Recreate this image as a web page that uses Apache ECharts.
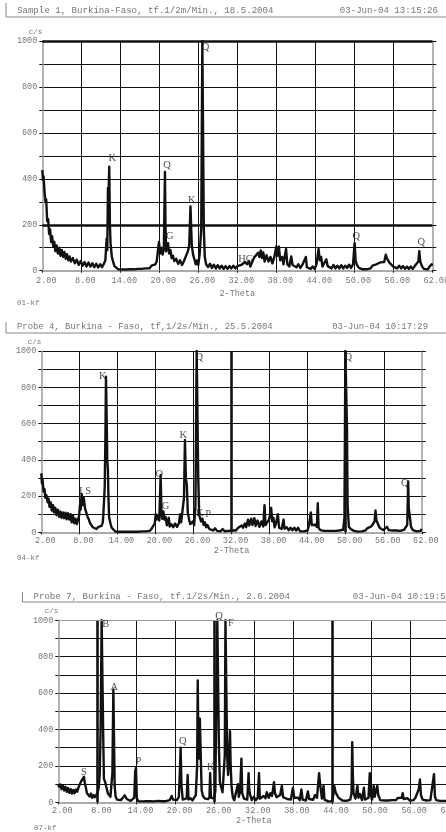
<!DOCTYPE html>
<html><head><meta charset="utf-8">
<style>html,body{margin:0;padding:0;background:#fff}#c{width:446px;height:832px;filter:blur(0.35px)}</style>
<script src="https://cdn.jsdelivr.net/npm/echarts@6/dist/echarts.min.js"></script>
</head><body><div id="c"></div>
<script>
const thetaTicks=[2,8,14,20,26,32,38,44,50,56,62];
const countTicks=[0,200,400,600,800,1000];
const headersA=["Sample 1, Burkina-Faso, tf.1/2m/Min., 18.5.2004","03-Jun-04 13:15:26","01-kf"];
const headersB=["Probe 4, Burkina - Faso, tf,1/2s/Min., 25.5.2004","03-Jun-04 10:17:29","04-kf"];
const headersC=["Probe 7, Burkina - Faso, tf.1/2s/Min., 2.6.2004","03-Jun-04 10:19:59","07-kf"];
const thickRowsA=[200,1000];
const thickColsB=[32,50];
const thickColsC=[8,26,44];
const peaksA=[[12.77,489,"K"],[21.2,460,"Q"],[25,308,"K"],[27.1,971,"Q"],[21.6,151,"G"],[33.3,49,"HG"],[50.3,148,"Q"],[60.3,126,"Q"]];
const peaksB=[[11.7,862,"K"],[8.9,228,"I S"],[20.6,322,"Q"],[21.6,141,"G"],[24.4,533,"K"],[26.9,967,"Q"],[50.4,967,"Q"],[59.3,270,"Q"],[28.3,99,"P"],[27,105,"K"]];
const peaksC=[[5.94,163,"S"],[9.3,980,"B"],[10.6,630,"A"],[14.3,225,"P"],[21.1,333,"Q"],[25.4,190,"K"],[26.65,1025,"Q"],[28.5,983,"F"]];
const traceA=[[2,438],[2.1,395],[2.2,410],[2.35,340],[2.5,300],[2.6,310],[2.75,215],[2.9,225],[3.05,160],[3.2,180],[3.35,125],[3.5,150],[3.7,105],[3.85,125],[4,85],[4.2,110],[4.4,75],[4.6,100],[4.8,65],[5,90],[5.2,60],[5.4,82],[5.6,52],[5.8,72],[6,45],[6.2,62],[6.4,40],[6.7,55],[7,32],[7.3,48],[7.6,25],[7.9,42],[8.2,22],[8.5,38],[8.8,18],[9.1,36],[9.4,18],[9.7,32],[10,15],[10.3,30],[10.6,14],[10.9,28],[11.2,16],[11.5,32],[11.7,45],[11.9,140],[12,90],[12.1,360],[12.2,340],[12.3,453],[12.4,200],[12.5,120],[12.7,60],[12.9,38],[13.1,20],[13.4,14],[13.7,6],[14,14],[14.3,5],[14.6,12],[14.9,5],[15.2,13],[15.5,6],[15.8,14],[16.1,6],[16.4,13],[16.7,8],[17,16],[17.3,8],[17.6,16],[17.9,10],[18.2,18],[18.5,10],[18.8,22],[19.1,14],[19.4,28],[19.6,40],[19.8,90],[19.95,125],[20.1,75],[20.3,100],[20.5,70],[20.7,95],[20.87,430],[20.95,200],[21.05,85],[21.2,105],[21.35,120],[21.5,75],[21.7,90],[21.9,55],[22.1,65],[22.3,42],[22.6,52],[22.9,30],[23.2,45],[23.5,25],[23.8,42],[24.1,50],[24.4,85],[24.6,110],[24.8,280],[24.9,190],[25,110],[25.2,70],[25.4,50],[25.6,28],[25.8,45],[26,25],[26.2,70],[26.45,180],[26.62,1000],[26.75,1000],[26.85,180],[27,60],[27.2,28],[27.5,16],[27.8,30],[28.1,12],[28.4,26],[28.7,10],[29,24],[29.3,10],[29.6,22],[29.9,8],[30.2,20],[30.5,8],[30.8,20],[31.1,10],[31.4,22],[31.7,10],[32,20],[32.3,15],[32.6,25],[32.9,22],[33.2,38],[33.5,28],[33.8,42],[34,18],[34.3,25],[34.6,58],[34.9,50],[35.2,78],[35.4,60],[35.6,88],[35.8,55],[36,80],[36.2,40],[36.5,68],[36.8,40],[37.1,60],[37.4,32],[37.7,60],[38,105],[38.2,65],[38.4,105],[38.6,45],[38.9,60],[39.1,28],[39.5,95],[39.7,28],[40,18],[40.3,62],[40.5,25],[40.8,32],[41.1,15],[41.4,28],[41.7,12],[42,25],[42.3,18],[42.55,60],[42.7,15],[43,20],[43.3,8],[43.6,18],[43.9,8],[44.2,30],[44.5,95],[44.7,45],[44.9,60],[45.1,18],[45.4,22],[45.7,50],[45.9,20],[46.2,28],[46.5,10],[46.8,25],[47.1,10],[47.4,22],[47.7,10],[48,24],[48.3,10],[48.6,22],[48.9,12],[49.2,26],[49.5,12],[49.8,28],[50.05,120],[50.2,45],[50.4,25],[50.7,12],[51,16],[51.3,6],[51.6,14],[51.9,6],[52.2,14],[52.5,10],[52.8,22],[53.1,14],[53.4,28],[53.7,22],[54,36],[54.3,28],[54.6,38],[54.85,70],[55,55],[55.2,60],[55.4,35],[55.7,38],[56,18],[56.3,26],[56.6,10],[56.9,22],[57.2,10],[57.5,20],[57.8,8],[58.1,18],[58.4,8],[58.7,18],[59,8],[59.3,20],[59.6,16],[59.85,40],[60,85],[60.15,40],[60.4,20],[60.7,8],[61,16],[61.3,6],[61.6,18],[61.9,28],[62,22]];
const traceB=[[2,325],[2.1,270],[2.2,290],[2.35,225],[2.5,240],[2.65,190],[2.8,205],[3,165],[3.15,185],[3.3,140],[3.5,165],[3.65,120],[3.85,150],[4,110],[4.2,135],[4.4,95],[4.6,125],[4.8,85],[5,115],[5.2,80],[5.4,110],[5.6,78],[5.8,108],[6,72],[6.2,105],[6.4,70],[6.6,100],[6.8,55],[7,92],[7.2,50],[7.4,75],[7.6,45],[7.8,70],[7.95,90],[8.1,150],[8.2,125],[8.36,212],[8.5,150],[8.7,190],[8.9,130],[9.1,125],[9.3,85],[9.5,70],[9.7,50],[9.9,45],[10.1,28],[10.4,38],[10.7,18],[11,30],[11.3,22],[11.5,35],[11.7,55],[11.8,110],[12,250],[12.1,500],[12.2,858],[12.3,650],[12.4,400],[12.5,350],[12.6,180],[12.7,80],[12.9,50],[13.1,25],[13.4,14],[13.7,4],[14,12],[14.3,3],[14.6,10],[14.9,3],[15.2,10],[15.5,3],[15.8,10],[16.1,3],[16.4,9],[16.7,3],[17,10],[17.3,3],[17.6,10],[17.9,5],[18.2,12],[18.5,5],[18.8,14],[19.1,8],[19.4,20],[19.7,28],[19.9,50],[20.05,100],[20.2,70],[20.4,90],[20.6,65],[20.82,316],[20.95,110],[21.05,75],[21.25,115],[21.4,70],[21.6,85],[21.8,38],[22.1,80],[22.25,32],[22.5,45],[22.8,28],[23.1,48],[23.4,30],[23.7,50],[23.9,100],[24.05,55],[24.3,65],[24.5,190],[24.65,510],[24.8,300],[24.95,260],[25.1,110],[25.3,70],[25.5,45],[25.7,35],[25.9,60],[26.1,40],[26.3,140],[26.5,1000],[26.65,1000],[26.75,300],[26.9,95],[27,95],[27.2,60],[27.4,75],[27.6,40],[27.8,55],[28,28],[28.2,40],[28.5,18],[28.8,28],[29.1,10],[29.4,22],[29.7,8],[30,18],[30.3,6],[30.6,18],[30.9,6],[31.2,16],[31.5,8],[31.8,16],[32.1,10],[32.4,20],[32.7,10],[33,24],[33.3,18],[33.6,38],[33.8,25],[34.1,48],[34.3,28],[34.6,70],[34.8,38],[35.1,75],[35.3,40],[35.6,78],[35.8,35],[36.1,65],[36.4,30],[36.7,60],[37,32],[37.2,150],[37.35,40],[37.6,50],[37.9,70],[38.1,100],[38.25,135],[38.4,60],[38.6,80],[38.8,28],[39,48],[39.3,100],[39.5,25],[39.7,32],[39.9,18],[40.2,70],[40.35,20],[40.7,28],[41,12],[41.3,25],[41.6,12],[41.9,25],[42.2,10],[42.5,25],[42.8,6],[43.1,16],[43.4,5],[43.7,14],[44,10],[44.2,40],[44.5,110],[44.65,40],[44.9,30],[45.2,42],[45.45,30],[45.6,160],[45.72,25],[46,12],[46.3,20],[46.6,8],[46.9,18],[47.2,8],[47.5,18],[47.8,8],[48.1,18],[48.4,8],[48.7,18],[49,10],[49.3,20],[49.6,14],[49.8,80],[49.95,1000],[50.1,1000],[50.2,580],[50.3,150],[50.5,30],[50.8,18],[51,28],[51.3,8],[51.6,16],[51.9,4],[52.2,12],[52.5,5],[52.8,15],[53.1,10],[53.4,22],[53.7,16],[54,32],[54.3,45],[54.55,60],[54.7,120],[54.85,65],[55.1,55],[55.35,25],[55.6,22],[55.9,12],[56.2,22],[56.5,30],[56.8,12],[57.1,22],[57.4,10],[57.7,20],[58,10],[58.3,18],[58.6,8],[58.9,18],[59.2,14],[59.5,22],[59.7,40],[59.85,280],[59.95,130],[60.1,90],[60.3,30],[60.6,12],[60.9,18],[61.2,5],[61.5,14],[61.8,8],[62,18]];
const traceC=[[2,100],[2.15,85],[2.3,98],[2.5,72],[2.7,92],[2.9,65],[3.1,85],[3.3,58],[3.5,78],[3.7,52],[3.9,72],[4.1,48],[4.3,68],[4.5,50],[4.7,70],[4.9,58],[5.1,82],[5.3,85],[5.5,115],[5.7,110],[5.94,140],[6.05,110],[6.2,85],[6.4,50],[6.6,55],[6.8,32],[7,48],[7.2,25],[7.4,40],[7.6,28],[7.8,38],[8,50],[8.2,80],[8.35,150],[8.5,420],[8.65,1000],[8.75,1000],[8.9,350],[9,130],[9.2,110],[9.4,80],[9.6,50],[9.8,60],[10,30],[10.15,40],[10.3,160],[10.45,620],[10.55,620],[10.65,90],[10.8,30],[11,15],[11.3,22],[11.6,12],[11.9,20],[12.2,38],[12.5,18],[12.8,14],[13.1,8],[13.4,12],[13.65,25],[13.8,170],[13.92,190],[14.05,20],[14.3,5],[14.6,14],[14.9,5],[15.2,14],[15.5,6],[15.8,14],[16.1,6],[16.4,12],[16.7,5],[17,14],[17.3,8],[17.6,14],[17.9,6],[18.2,12],[18.5,6],[18.8,16],[19.1,12],[19.4,35],[19.6,15],[19.9,22],[20.2,12],[20.5,30],[20.65,160],[20.77,300],[20.9,90],[21.1,15],[21.4,8],[21.7,22],[21.85,150],[21.98,15],[22.3,22],[22.6,10],[22.9,28],[23.1,40],[23.3,200],[23.4,670],[23.5,300],[23.62,240],[23.72,460],[23.85,270],[24,65],[24.2,35],[24.5,20],[24.8,30],[25,18],[25.2,30],[25.3,160],[25.42,25],[25.7,35],[25.9,22],[26.1,60],[26.25,570],[26.4,1000],[26.52,1000],[26.65,300],[26.8,110],[27,100],[27.2,55],[27.45,60],[27.55,260],[27.65,1000],[27.8,1000],[27.92,250],[28.05,150],[28.2,250],[28.35,390],[28.45,200],[28.6,80],[28.8,25],[29,12],[29.3,18],[29.57,100],[29.7,30],[29.9,60],[30.1,240],[30.22,50],[30.5,20],[30.8,30],[31,15],[31.2,160],[31.3,70],[31.45,40],[31.7,12],[32,30],[32.3,12],[32.6,25],[32.8,160],[32.92,20],[33.2,12],[33.5,35],[33.8,22],[34,55],[34.3,25],[34.55,50],[34.8,35],[35.1,110],[35.25,50],[35.5,28],[35.8,22],[36.05,40],[36.3,90],[36.5,28],[36.8,35],[37.1,18],[37.4,25],[37.7,15],[38,80],[38.2,25],[38.5,15],[38.8,25],[39.05,12],[39.3,70],[39.5,15],[39.8,22],[40,10],[40.3,60],[40.5,18],[40.8,28],[41.1,14],[41.4,40],[41.7,25],[41.9,110],[42.02,160],[42.15,110],[42.3,120],[42.45,20],[42.7,90],[42.85,15],[43.1,18],[43.4,5],[43.7,12],[44,5],[44.2,40],[44.35,90],[44.55,55],[44.8,45],[45,25],[45.3,28],[45.6,10],[45.9,15],[46.2,8],[46.5,14],[46.8,15],[47,50],[47.1,330],[47.2,150],[47.3,50],[47.6,20],[47.9,90],[48.05,25],[48.3,45],[48.6,12],[48.9,80],[49.05,15],[49.3,18],[49.6,25],[49.8,160],[49.95,40],[50.15,15],[50.4,90],[50.55,30],[50.8,70],[50.95,90],[51.1,40],[51.4,12],[51.7,20],[52,10],[52.3,18],[52.6,10],[52.9,20],[53.2,12],[53.5,22],[53.8,12],[54.1,24],[54.4,14],[54.7,25],[54.85,50],[55,18],[55.3,10],[55.6,22],[55.9,10],[56.2,18],[56.5,12],[56.8,25],[57.1,20],[57.3,70],[57.5,125],[57.65,40],[57.9,15],[58.2,20],[58.5,10],[58.8,18],[59.1,12],[59.4,22],[59.65,155],[59.8,30],[60,12],[60.3,18],[60.6,8],[60.9,16],[61.2,8],[61.5,15],[61.8,8],[62,14]];

const INK='#111', GREY='#9a9a9a', LABEL='#777', MONO='"Liberation Mono",monospace';
const grids=[{left:42.3,top:41,width:390,height:229.7,outerBoundsMode:'none'},{left:41.3,top:351,width:380.5,height:181.3,outerBoundsMode:'none'},{left:58.3,top:620.3,width:391,height:182,outerBoundsMode:'none'}];
const traces=[traceA,traceB,traceC], peaks=[peaksA,peaksB,peaksC];
const thickRows=[thickRowsA,[],[]], thickCols=[[],thickColsB,thickColsC];
const labelMargins=[6,4,4];
const nameGaps=[19,13,13];
const option={animation:false,backgroundColor:'#fff',grid:grids,xAxis:[],yAxis:[],series:[],graphic:[]};
grids.forEach((g,i)=>{
  option.xAxis.push({gridIndex:i,type:'value',min:2,max:62,name:'2-Theta',nameLocation:'middle',nameGap:nameGaps[i],
    nameTextStyle:{fontFamily:MONO,fontSize:8.5,color:LABEL},
    axisLine:{show:true,lineStyle:{color:'#aaa',width:2}},
    axisTick:{show:true,length:2,lineStyle:{color:INK},customValues:thetaTicks},
    axisLabel:{margin:labelMargins[i],padding:[0,0,0,8],fontFamily:MONO,fontSize:8.5,color:LABEL,hideOverlap:false,showMinLabel:true,showMaxLabel:true,customValues:thetaTicks,formatter:v=>v.toFixed(2)},
    splitLine:{show:true,showMinLine:false,showMaxLine:false,lineStyle:{color:INK,width:1}}});
  option.yAxis.push({gridIndex:i,type:'value',min:0,max:1000,interval:100,name:'c/s',nameLocation:'end',nameGap:5,
    nameTextStyle:{fontFamily:MONO,fontSize:7.5,color:LABEL,align:'right'},
    axisLine:{show:true,lineStyle:{color:GREY,width:1.5}},
    axisTick:{show:true,length:3,lineStyle:{color:INK}},
    axisLabel:{margin:5,fontFamily:MONO,fontSize:8.5,color:LABEL,formatter:v=>countTicks.includes(v)?String(v):''},
    splitLine:{show:true,showMinLine:false,showMaxLine:i!==2,lineStyle:{color:INK,width:1}}});
  option.yAxis.push({gridIndex:i,type:'value',min:0,max:1000,interval:100,position:'right',
    axisLine:{show:true,lineStyle:{color:GREY,width:1.5}},
    axisTick:{show:true,length:4,lineStyle:{color:INK}},axisLabel:{show:false},splitLine:{show:false}});
  const marks=thickRows[i].map(v=>({yAxis:v})).concat(thickCols[i].map(v=>({xAxis:v})));
  if(i===2) marks.push({yAxis:1000,lineStyle:{color:GREY,width:1}});
  option.series.push({type:'line',name:'trace'+(i+1),xAxisIndex:i,yAxisIndex:i*2,data:traces[i],showSymbol:false,symbol:'none',
    lineStyle:{color:'#111',width:2.4,join:'round'},clip:true,z:3,
    markLine:{silent:true,symbol:'none',animation:false,label:{show:false},lineStyle:{color:INK,width:2.6,type:'solid'},data:marks}});
  option.series.push({type:'scatter',name:'peaks'+(i+1),xAxisIndex:i,yAxisIndex:i*2,data:peaks[i].map(p=>({value:[p[0],p[1]],name:p[2]})),symbolSize:0.1,clip:false,silent:true,z:5,
    label:{show:true,position:'inside',formatter:p=>p.name,fontFamily:'"Liberation Serif",serif',fontSize:10.5,color:'#222'}});
});
const headers=[headersA,headersB,headersC];
const frames=[[6,3,17],[6,322,333],[22.5,592,602]];
const rightText=[438,428,451];
const textTop=[11,327,597];
const headFont=[9.1,8.9,9.1];
const footer=[[17,303],[17,558],[34,828]];
headers.forEach((h,i)=>{
  const f=frames[i];
  option.graphic.push({type:'polyline',silent:true,shape:{points:[[f[0],f[1]],[f[0],f[2]],[446,f[2]]]},style:{stroke:'#888',lineWidth:1,fill:null}});
  option.graphic.push({type:'text',silent:true,x:f[0]+11,y:textTop[i],style:{text:h[0],font:headFont[i]+'px '+MONO,fill:LABEL,verticalAlign:'middle'}});
  option.graphic.push({type:'text',silent:true,x:rightText[i],y:textTop[i],style:{text:h[1],font:headFont[i]+'px '+MONO,fill:LABEL,textAlign:'right',verticalAlign:'middle'}});
  option.graphic.push({type:'text',silent:true,x:footer[i][0],y:footer[i][1],style:{text:h[2],font:'7.5px '+MONO,fill:LABEL,verticalAlign:'middle'}});
});
const chart=echarts.init(document.getElementById('c'),null,{width:446,height:832});
chart.setOption(option);
</script></body></html>
